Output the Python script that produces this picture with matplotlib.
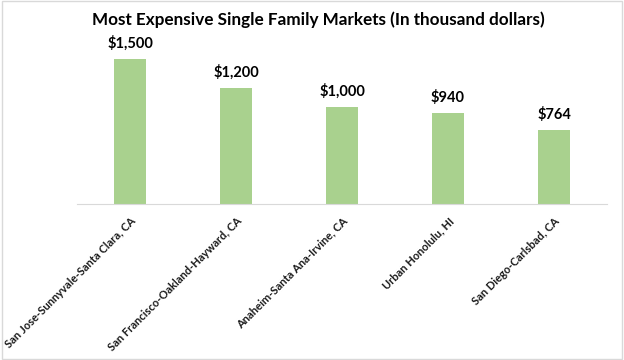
import matplotlib
matplotlib.use("Agg")
import matplotlib.pyplot as plt
from matplotlib.patches import Rectangle

markets = [
    "San Jose-Sunnyvale-Santa Clara, CA",
    "San Francisco-Oakland-Hayward, CA",
    "Anaheim-Santa Ana-Irvine, CA",
    "Urban Honolulu, HI",
    "San Diego-Carlsbad, CA",
]
prices = [1500, 1200, 1000, 940, 764]
price_labels = ["$1,500", "$1,200", "$1,000", "$940", "$764"]

plt.rcParams['font.family'] = ['Lato', 'DejaVu Sans']

fig = plt.figure(figsize=(6.24, 3.6), dpi=100)
ax = fig.add_axes([77 / 624, 1 - 204 / 360, 530 / 624, 164 / 360])

x = range(len(markets))
bars = ax.bar(x, prices, width=0.31, color='#A9D18E')

for b, lab in zip(bars, price_labels):
    ax.annotate(lab, (b.get_x() + b.get_width() / 2, b.get_height()),
                xytext=(0, 6), textcoords='offset points',
                ha='center', va='bottom', fontsize=10.5, fontweight='bold')

ax.set_xlim(-0.5, len(markets) - 0.5)
ax.set_ylim(0, 1696)
ax.set_xticks(list(x))
ax.set_xticklabels(markets, rotation=45, ha='right', rotation_mode='anchor',
                   fontsize=8, fontweight='bold', color='#1a1a1a')
ax.tick_params(axis='x', length=0, pad=8)
ax.set_yticks([])
for side in ['top', 'right', 'left']:
    ax.spines[side].set_visible(False)
ax.spines['bottom'].set_color('#D9D9D9')

fig.text(0.511, 1 - 20 / 360, "Most Expensive Single Family Markets (In thousand dollars)",
         ha='center', va='center', fontsize=12.3, fontweight='bold')

# light frame round the whole chart
fig.patches.append(Rectangle((0.003, 0.004), 0.994, 0.992, transform=fig.transFigure,
                             fill=False, edgecolor='#D9D9D9', linewidth=1))

fig.savefig("out.png", dpi=100)
